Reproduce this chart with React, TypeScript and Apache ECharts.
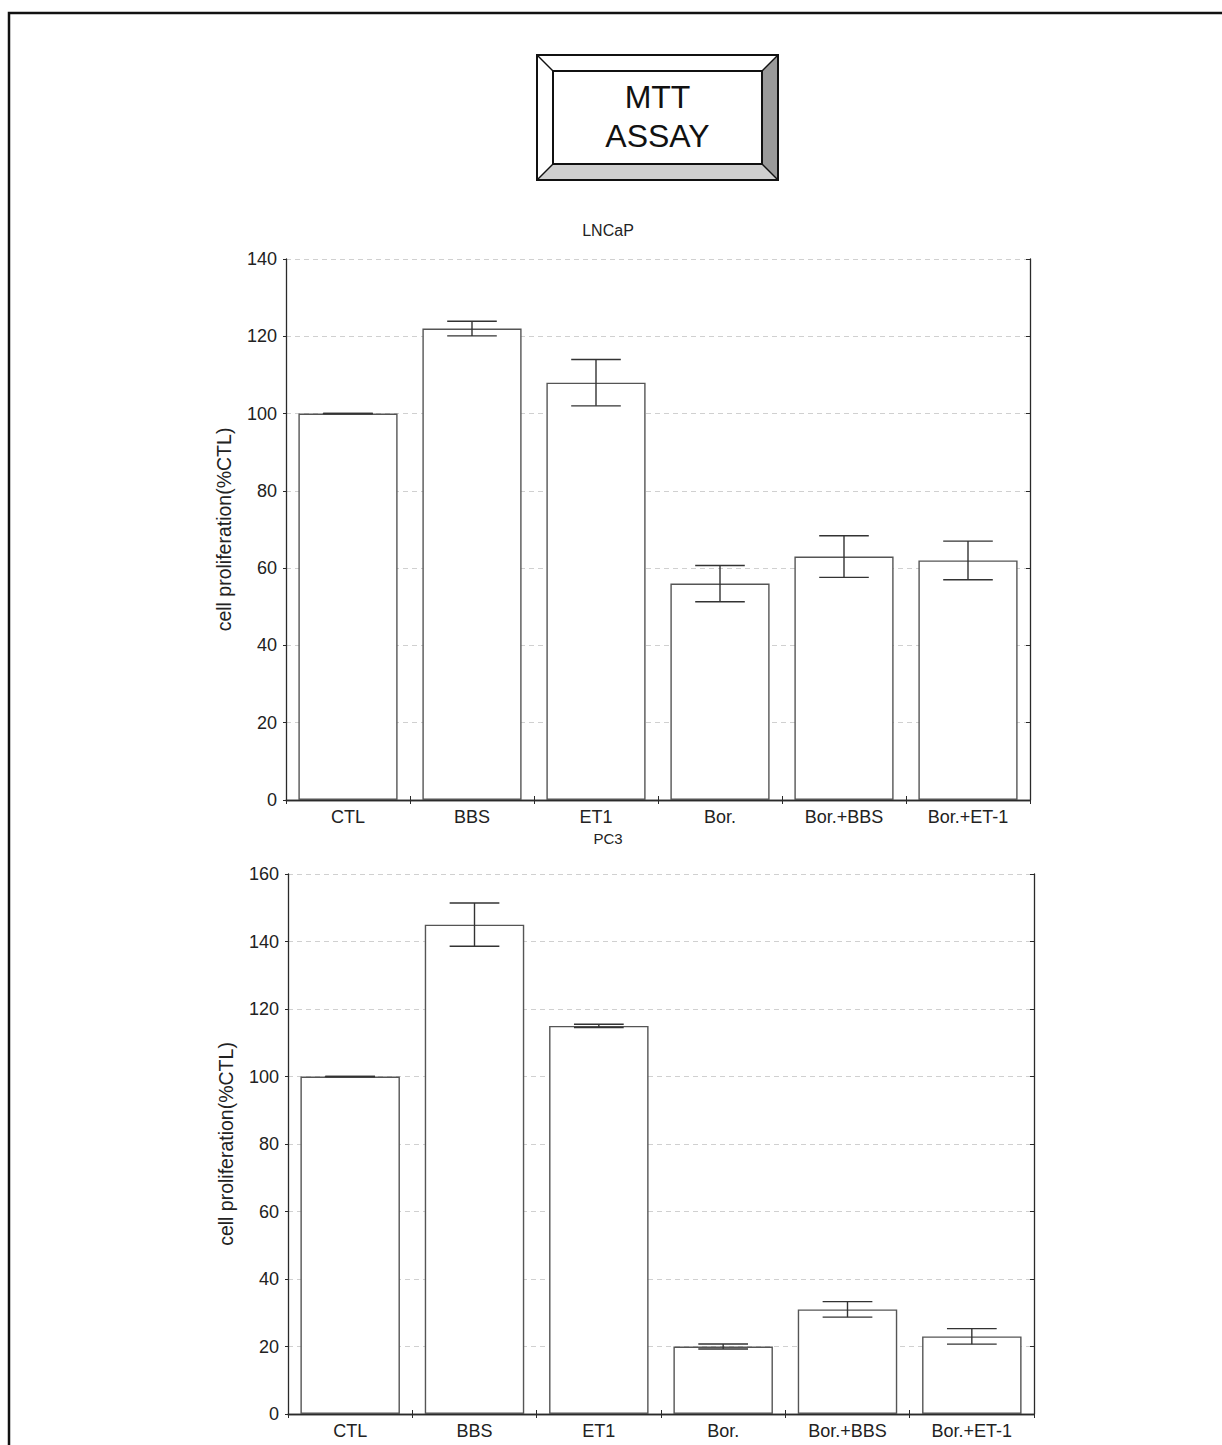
import React, { useEffect, useRef } from "react";
import * as echarts from "echarts";

const categories = ["CTL", "BBS", "ET1", "Bor.", "Bor.+BBS", "Bor.+ET-1"];
const lncapMeans = [100, 122, 108, 56, 63, 62];
const lncapErrors = [0, 1.9, 6, 4.7, 5.4, 5];
const pc3Means = [100, 145, 115, 20, 31, 23];
const pc3Errors = [0, 6.4, 0.5, 0.75, 2.3, 2.3];
const lncapAxis = { min: 0, max: 140, interval: 20 };
const pc3Axis = { min: 0, max: 160, interval: 20 };
const panelTitles = ["LNCaP", "PC3"];
const yAxisName = "cell proliferation(%CTL)";
const headerLines = ["MTT", "ASSAY"];

const FONT = "'Liberation Sans', Arial, Helvetica, sans-serif";
const AXIS_COLOR = "#2a2a2a";

function errorRenderItem(params: any, api: any) {
  const x = api.value(0);
  const mean = api.value(1);
  const err = api.value(2);
  const top = api.coord([x, mean + err]);
  const bot = api.coord([x, mean - err]);
  const hw = api.size([1, 0])[0] * 0.2;
  const style = { stroke: "#333", lineWidth: 1.4, fill: null };
  return {
    type: "group",
    children: [
      { type: "line", shape: { x1: top[0], y1: top[1], x2: bot[0], y2: bot[1] }, style },
      { type: "line", shape: { x1: top[0] - hw, y1: top[1], x2: top[0] + hw, y2: top[1] }, style },
      { type: "line", shape: { x1: bot[0] - hw, y1: bot[1], x2: bot[0] + hw, y2: bot[1] }, style },
    ],
  };
}

function makeAxes(gridIndex: number, range: { min: number; max: number; interval: number }) {
  const xBottom = {
    type: "category",
    gridIndex,
    data: categories,
    position: "bottom",
    axisLine: { show: true, lineStyle: { color: AXIS_COLOR, width: 1.3 } },
    axisTick: { show: true, inside: true, length: 4, lineStyle: { color: AXIS_COLOR } },
    axisLabel: { color: "#222", fontSize: 18, fontFamily: FONT, margin: 8 },
    splitLine: { show: false },
  };
  const xTop = {
    type: "category",
    gridIndex,
    data: categories,
    position: "top",
    axisLine: { show: true, lineStyle: { color: AXIS_COLOR, width: 1.3 } },
    axisTick: { show: true, inside: true, length: 4, lineStyle: { color: AXIS_COLOR } },
    axisLabel: { show: false },
    splitLine: { show: false },
  };
  const yLeft = {
    type: "value",
    gridIndex,
    position: "left",
    min: range.min,
    max: range.max,
    interval: range.interval,
    name: yAxisName,
    nameLocation: "middle",
    nameGap: 52,
    nameTextStyle: { color: "#222", fontSize: 19.5, fontFamily: FONT },
    axisLine: { show: true, lineStyle: { color: AXIS_COLOR, width: 1.3 } },
    axisTick: { show: true, inside: false, length: 3, lineStyle: { color: AXIS_COLOR } },
    axisLabel: { color: "#222", fontSize: 18, fontFamily: FONT, margin: 9 },
    splitLine: { show: true, lineStyle: { color: "#d0d0d0", type: [5, 4], width: 1 } },
  };
  const yRight = {
    type: "value",
    gridIndex,
    position: "right",
    min: range.min,
    max: range.max,
    interval: range.interval,
    axisLine: { show: true, lineStyle: { color: AXIS_COLOR, width: 1.3 } },
    axisTick: { show: true, inside: true, length: 4, lineStyle: { color: AXIS_COLOR } },
    axisLabel: { show: false },
    splitLine: { show: false },
  };
  return { x: [xBottom, xTop], y: [yLeft, yRight] };
}

function makeSeries(gridAxisBase: number, means: number[], errors: number[]) {
  return [
    {
      type: "bar",
      xAxisIndex: gridAxisBase,
      yAxisIndex: gridAxisBase,
      data: means,
      barCategoryGap: "20%",
      itemStyle: { color: "#ffffff", borderColor: "#555", borderWidth: 1.4 },
      emphasis: { disabled: true },
      z: 2,
    },
    {
      type: "custom",
      xAxisIndex: gridAxisBase,
      yAxisIndex: gridAxisBase,
      data: means.map((m, i) => [i, m, errors[i]]),
      encode: { x: 0, y: 1 },
      renderItem: errorRenderItem,
      z: 3,
    },
  ];
}

function headerGraphics() {
  const o = { l: 537, t: 55, r: 778, b: 180 };
  const n = { l: 553, t: 71, r: 762, b: 164 };
  const stroke = "#111";
  return [
    {
      type: "polygon",
      shape: { points: [[o.l, o.t], [o.r, o.t], [n.r, n.t], [n.l, n.t]] },
      style: { fill: "#ffffff", stroke: null },
    },
    {
      type: "polygon",
      shape: { points: [[o.l, o.t], [n.l, n.t], [n.l, n.b], [o.l, o.b]] },
      style: { fill: "#ffffff", stroke: null },
    },
    {
      type: "polygon",
      shape: { points: [[o.r, o.t], [o.r, o.b], [n.r, n.b], [n.r, n.t]] },
      style: { fill: "#9a9a9a", stroke: null },
    },
    {
      type: "polygon",
      shape: { points: [[o.l, o.b], [n.l, n.b], [n.r, n.b], [o.r, o.b]] },
      style: { fill: "#cfcfcf", stroke: null },
    },
    { type: "line", shape: { x1: o.l, y1: o.t, x2: n.l, y2: n.t }, style: { stroke, lineWidth: 1.5 } },
    { type: "line", shape: { x1: o.r, y1: o.t, x2: n.r, y2: n.t }, style: { stroke, lineWidth: 1.5 } },
    { type: "line", shape: { x1: o.l, y1: o.b, x2: n.l, y2: n.b }, style: { stroke, lineWidth: 1.5 } },
    { type: "line", shape: { x1: o.r, y1: o.b, x2: n.r, y2: n.b }, style: { stroke, lineWidth: 1.5 } },
    {
      type: "rect",
      shape: { x: o.l, y: o.t, width: o.r - o.l, height: o.b - o.t },
      style: { fill: null, stroke, lineWidth: 2 },
    },
    {
      type: "rect",
      shape: { x: n.l, y: n.t, width: n.r - n.l, height: n.b - n.t },
      style: { fill: null, stroke, lineWidth: 2 },
    },
    {
      type: "text",
      x: (o.l + o.r) / 2,
      y: 97,
      style: {
        text: headerLines[0],
        fontSize: 32,
        fontFamily: FONT,
        fill: "#111",
        align: "center",
        verticalAlign: "middle",
      },
    },
    {
      type: "text",
      x: (o.l + o.r) / 2,
      y: 136,
      style: {
        text: headerLines[1],
        fontSize: 32,
        fontFamily: FONT,
        fill: "#111",
        align: "center",
        verticalAlign: "middle",
      },
    },
  ];
}

export default function App() {
  const ref = useRef<HTMLDivElement>(null);

  useEffect(() => {
    if (!ref.current) return;
    const chart = echarts.init(ref.current, null, { renderer: "svg" });
    const a1 = makeAxes(0, lncapAxis);
    const a2 = makeAxes(1, pc3Axis);
    const option: any = {
      animation: false,
      backgroundColor: "#ffffff",
      textStyle: { fontFamily: FONT },
      grid: [
        { left: 286, top: 259, width: 744, height: 541 },
        { left: 288, top: 874, width: 746, height: 540 },
      ],
      xAxis: [a1.x[0], a1.x[1], a2.x[0], a2.x[1]],
      yAxis: [a1.y[0], a1.y[1], a2.y[0], a2.y[1]],
      series: [
        ...makeSeries(0, lncapMeans, lncapErrors),
        ...makeSeries(2, pc3Means, pc3Errors),
      ],
      graphic: [
        {
          type: "rect",
          shape: { x: 9, y: 13, width: 1400, height: 1600 },
          style: { fill: null, stroke: "#111", lineWidth: 2.5 },
          silent: true,
        },
        ...headerGraphics(),
        {
          type: "text",
          x: 608,
          y: 230,
          style: {
            text: panelTitles[0],
            fontSize: 16,
            fontFamily: FONT,
            fill: "#222",
            align: "center",
            verticalAlign: "middle",
          },
        },
        {
          type: "text",
          x: 608,
          y: 838,
          style: {
            text: panelTitles[1],
            fontSize: 15,
            fontFamily: FONT,
            fill: "#222",
            align: "center",
            verticalAlign: "middle",
          },
        },
      ],
    };
    chart.setOption(option);
    return () => {
      chart.dispose();
    };
  }, []);

  return (
    <div
      ref={ref}
      style={{ position: "absolute", left: 0, top: 0, width: 1222, height: 1445 }}
    />
  );
}
